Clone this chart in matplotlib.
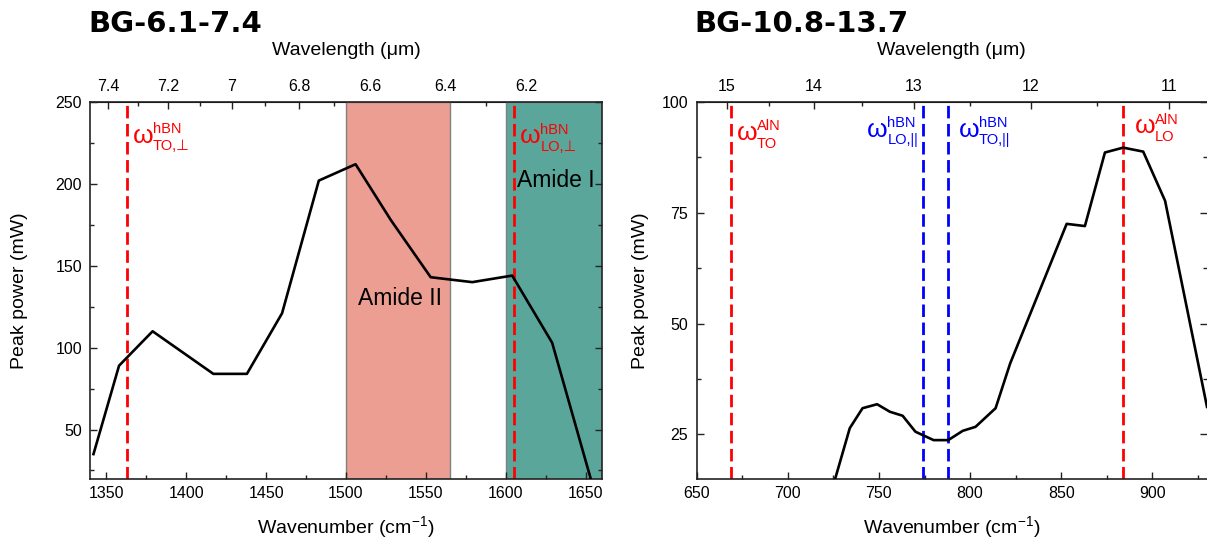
import matplotlib
matplotlib.use('Agg')
import matplotlib.pyplot as plt
import matplotlib.transforms as mtransforms
from matplotlib.ticker import MultipleLocator, FixedLocator
import numpy as np

np.seterr(divide='ignore', invalid='ignore')

plt.rcParams['font.family'] = ['Liberation Sans', 'DejaVu Sans']
plt.rcParams['mathtext.fontset'] = 'custom'
plt.rcParams['mathtext.rm'] = 'Liberation Sans'
plt.rcParams['mathtext.it'] = 'Liberation Sans'

# ---- data: BG-6.1-7.4
wn_a = [1342, 1358, 1379, 1417, 1438, 1460, 1483, 1506, 1528, 1553, 1579, 1604, 1629, 1654]
pw_a = [35, 89, 110, 84, 84, 121, 202, 212, 178, 143, 140, 144, 103, 17]
amide2 = (1500, 1565)
amide1 = (1600, 1660)
phonon_a = [1363, 1605]

# ---- data: BG-10.8-13.7
wn_b = [726, 734, 741, 749, 756, 763, 770, 780, 788, 796, 803, 814, 822, 853, 863, 874, 884, 895, 907, 930]
pw_b = [15, 26.4, 30.9, 31.8, 30.1, 29.2, 25.6, 23.7, 23.7, 25.8, 26.7, 30.9, 41.0, 72.5, 72.0, 88.6, 89.7, 88.8, 77.7, 31.2]
aln_lines = [669, 884]
hbn_lines = [774, 788]

wl_ticks_a = [7.4, 7.2, 7.0, 6.8, 6.6, 6.4, 6.2]
wl_labels_a = ['7.4', '7.2', '7', '6.8', '6.6', '6.4', '6.2']
wl_minor_a = [7.3, 7.1, 6.9, 6.7, 6.5, 6.3, 6.1]
wl_ticks_b = [15, 14, 13, 12, 11]
wl_minor_b = [14.5, 13.5, 12.5, 11.5]

RED = '#ff0000'
BLUE = '#0000ff'


def wl(x):
    x = np.asarray(x, dtype=float)
    return 1e4 / x


def omega(ax, x, yf, sup, sub, color):
    tr = mtransforms.blended_transform_factory(ax.transData, ax.transAxes)
    ax.text(x, yf, 'ω', transform=tr, color=color, fontsize=19, va='baseline', ha='left')
    ax.annotate(sup, (x, yf), xycoords=tr, xytext=(14.6, 7), textcoords='offset points',
                color=color, fontsize=10.5, va='baseline', ha='left')
    ax.annotate(sub, (x, yf), xycoords=tr, xytext=(14.6, -5.5), textcoords='offset points',
                color=color, fontsize=10.5, va='baseline', ha='left')


def style(ax):
    for s in ax.spines.values():
        s.set_color('#222222')
        s.set_linewidth(1.2)
    ax.tick_params(which='both', direction='in', top=False, right=True, labelsize=11.5,
                   color='#222222', width=1)
    ax.tick_params(which='major', length=5)
    ax.tick_params(which='minor', length=3)
    ax.tick_params(axis='y', pad=6)
    ax.tick_params(axis='x', pad=5.5)


def top_axis(ax, ticks, labels, minor):
    sec = ax.secondary_xaxis('top', functions=(wl, wl))
    sec.set_xticks(ticks, labels)
    sec.xaxis.set_minor_locator(FixedLocator(minor))
    sec.tick_params(which='both', direction='in', labelsize=11.5, color='#222222', width=1, pad=6)
    sec.tick_params(which='major', length=5)
    sec.tick_params(which='minor', length=3)
    sec.set_xlabel('Wavelength (μm)', fontsize=14, labelpad=17)
    return sec


fig = plt.figure(figsize=(12.07, 5.41), dpi=100)
ax1 = fig.add_axes([0.0748, 0.1152, 0.4237, 0.6963])
ax2 = fig.add_axes([0.5772, 0.1152, 0.4228, 0.6963])

# left panel
ax1.axvspan(amide2[0], amide2[1], facecolor='#ec9e92', edgecolor='#808080', lw=1, zorder=1)
ax1.axvspan(amide1[0], amide1[1], facecolor='#5aa69a', edgecolor='#808080', lw=1, zorder=1)
for p in phonon_a:
    ax1.axvline(p, color=RED, lw=2, linestyle=(0, (4.5, 2)), zorder=2)
ax1.plot(wn_a, pw_a, color='black', lw=1.9, zorder=3)
ax1.set_xlim(1340, 1660)
ax1.set_ylim(20, 250)
ax1.xaxis.set_major_locator(MultipleLocator(50))
ax1.xaxis.set_minor_locator(MultipleLocator(25))
ax1.yaxis.set_major_locator(MultipleLocator(50))
ax1.yaxis.set_minor_locator(MultipleLocator(25))
ax1.text(1534, 130, 'Amide II', ha='center', va='center', fontsize=16.5, zorder=4)
ax1.text(1607, 202, 'Amide I', ha='left', va='center', fontsize=16.5, zorder=4)
omega(ax1, 1366.5, 0.892, 'hBN', 'TO,⊥', RED)
omega(ax1, 1609, 0.890, 'hBN', 'LO,⊥', RED)
ax1.set_xlabel('Wavenumber (cm$^{\\mathregular{-1}}$)', fontsize=14, labelpad=9)
ax1.set_ylabel('Peak power (mW)', fontsize=14, labelpad=20)
style(ax1)
top_axis(ax1, wl_ticks_a, wl_labels_a, wl_minor_a)

# right panel
for p in aln_lines:
    ax2.axvline(p, color=RED, lw=2, linestyle=(0, (4.5, 2)), zorder=2)
for p in hbn_lines:
    ax2.axvline(p, color=BLUE, lw=2, linestyle=(0, (4.5, 2)), zorder=2)
ax2.plot(wn_b, pw_b, color='black', lw=1.9, zorder=3)
ax2.set_xlim(650, 930)
ax2.set_ylim(15, 100)
ax2.xaxis.set_major_locator(MultipleLocator(50))
ax2.xaxis.set_minor_locator(MultipleLocator(25))
ax2.yaxis.set_major_locator(MultipleLocator(25))
ax2.yaxis.set_minor_locator(MultipleLocator(12.5))
omega(ax2, 672.0, 0.899, 'AlN', 'TO', RED)
omega(ax2, 743.5, 0.908, 'hBN', 'LO,||', BLUE)
omega(ax2, 793.7, 0.908, 'hBN', 'TO,||', BLUE)
omega(ax2, 890.2, 0.917, 'AlN', 'LO', RED)
ax2.set_xlabel('Wavenumber (cm$^{\\mathregular{-1}}$)', fontsize=14, labelpad=9)
ax2.set_ylabel('Peak power (mW)', fontsize=14, labelpad=9)
style(ax2)
ax2.spines['right'].set_visible(False)
top_axis(ax2, wl_ticks_b, [str(t) for t in wl_ticks_b], wl_minor_b)

fig.text(88 / 1207, 1 - 24 / 541, 'BG-6.1-7.4', fontsize=21, fontweight='bold',
         family='DejaVu Sans', va='center', ha='left')
fig.text(694 / 1207, 1 - 24 / 541, 'BG-10.8-13.7', fontsize=21, fontweight='bold',
         family='DejaVu Sans', va='center', ha='left')

fig.savefig('out.png', dpi=100)
